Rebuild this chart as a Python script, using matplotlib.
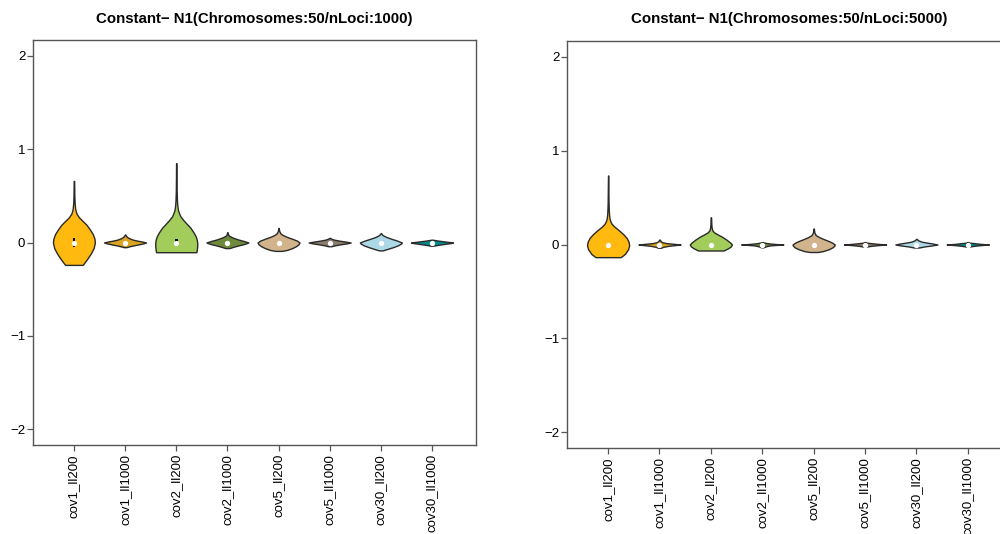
import matplotlib
matplotlib.use("Agg")
import matplotlib.pyplot as plt
from matplotlib.patches import Rectangle

plt.rcParams['font.family'] = ['Liberation Sans', 'DejaVu Sans']

categories = ["cov1_ll200", "cov1_ll1000", "cov2_ll200", "cov2_ll1000",
              "cov5_ll200", "cov5_ll1000", "cov30_ll200", "cov30_ll1000"]
colors = ["#FFB90F", "#DAA520", "#A2CD5A", "#6E8B3D",
          "#D2B48C", "#8B7D6B", "#ADD8E6", "#008B8B"]
titles = ["Constant\u2212 N1(Chromosomes:50/nLoci:1000)",
          "Constant\u2212 N1(Chromosomes:50/nLoci:5000)"]
yticks = [-2, -1, 0, 1, 2]
ytick_labels = ["\u22122", "\u22121", "0", "1", "2"]

# ---- violin profiles: (value levels, relative half-width) ----
# Panel 1 (nLoci:1000)
p1_coords = [
    [-0.24, -0.18, -0.12, -0.06, 0.0, 0.04, 0.09, 0.14, 0.19, 0.23, 0.27, 0.31, 0.36, 0.42, 0.5, 0.58, 0.66],
    [-0.05, -0.04, -0.03, -0.02, -0.01, 0.0, 0.01, 0.02, 0.03, 0.045, 0.06, 0.075, 0.086],
    [-0.104, -0.08, -0.04, 0.0, 0.03, 0.07, 0.11, 0.16, 0.2, 0.24, 0.28, 0.31, 0.35, 0.4, 0.45, 0.55, 0.7, 0.85],
    [-0.06, -0.045, -0.03, -0.015, 0.0, 0.015, 0.03, 0.045, 0.06, 0.075, 0.09, 0.11],
    [-0.09, -0.08, -0.06, -0.04, -0.02, 0.0, 0.02, 0.04, 0.06, 0.08, 0.1, 0.125, 0.155],
    [-0.04, -0.03, -0.02, -0.01, 0.0, 0.01, 0.02, 0.03, 0.04, 0.05],
    [-0.085, -0.07, -0.05, -0.03, -0.01, 0.0, 0.02, 0.04, 0.06, 0.08, 0.1],
    [-0.035, -0.025, -0.015, -0.005, 0.0, 0.01, 0.02, 0.03],
]
p1_widths = [
    [0.42, 0.62, 0.8, 0.94, 1.0, 0.98, 0.9, 0.76, 0.6, 0.42, 0.24, 0.12, 0.06, 0.035, 0.02, 0.015, 0.01],
    [0.06, 0.22, 0.42, 0.64, 0.86, 1.0, 0.82, 0.58, 0.38, 0.2, 0.09, 0.035, 0.01],
    [0.96, 0.98, 1.0, 1.0, 0.98, 0.92, 0.82, 0.67, 0.5, 0.34, 0.2, 0.14, 0.08, 0.05, 0.035, 0.02, 0.012, 0.008],
    [0.1, 0.3, 0.55, 0.82, 1.0, 0.8, 0.55, 0.35, 0.18, 0.07, 0.03, 0.01],
    [0.15, 0.4, 0.65, 0.83, 0.95, 1.0, 0.88, 0.65, 0.4, 0.2, 0.08, 0.03, 0.01],
    [0.08, 0.25, 0.5, 0.8, 1.0, 0.75, 0.45, 0.22, 0.08, 0.01],
    [0.08, 0.3, 0.58, 0.82, 0.97, 1.0, 0.78, 0.5, 0.25, 0.08, 0.01],
    [0.05, 0.3, 0.6, 0.92, 1.0, 0.65, 0.3, 0.03],
]
p1_median = [-0.01, 0.0, -0.005, 0.0, 0.0, 0.0, 0.0, 0.0]
p1_q1 = [-0.05, -0.005, -0.02, -0.005, -0.01, -0.004, -0.01, -0.003]
p1_q3 = [0.05, 0.005, 0.04, 0.005, 0.01, 0.004, 0.01, 0.003]

# Panel 2 (nLoci:5000)
p2_coords = [
    [-0.135, -0.1, -0.05, -0.01, 0.03, 0.07, 0.11, 0.15, 0.19, 0.22, 0.25, 0.28, 0.32, 0.38, 0.45, 0.55, 0.65, 0.736],
    [-0.035, -0.025, -0.015, -0.007, 0.0, 0.007, 0.015, 0.025, 0.035, 0.045, 0.053],
    [-0.064, -0.04, -0.02, 0.0, 0.02, 0.05, 0.08, 0.11, 0.13, 0.15, 0.18, 0.22, 0.29],
    [-0.03, -0.02, -0.01, -0.004, 0.0, 0.005, 0.012, 0.02, 0.025],
    [-0.08, -0.07, -0.05, -0.03, -0.01, 0.0, 0.02, 0.04, 0.06, 0.08, 0.1, 0.13, 0.17],
    [-0.022, -0.014, -0.007, 0.0, 0.007, 0.014, 0.02, 0.026],
    [-0.032, -0.02, -0.01, 0.0, 0.01, 0.02, 0.03, 0.045, 0.06],
    [-0.022, -0.014, -0.007, 0.0, 0.007, 0.014, 0.02, 0.026],
]
p2_widths = [
    [0.6, 0.8, 0.95, 1.0, 0.97, 0.88, 0.72, 0.52, 0.3, 0.17, 0.1, 0.065, 0.045, 0.03, 0.02, 0.015, 0.01, 0.005],
    [0.06, 0.18, 0.4, 0.72, 1.0, 0.68, 0.32, 0.13, 0.06, 0.03, 0.01],
    [0.6, 0.82, 0.95, 1.0, 0.92, 0.75, 0.55, 0.3, 0.15, 0.07, 0.035, 0.02, 0.01],
    [0.06, 0.16, 0.36, 0.7, 1.0, 0.65, 0.3, 0.1, 0.03],
    [0.2, 0.45, 0.72, 0.9, 0.99, 1.0, 0.88, 0.68, 0.45, 0.25, 0.1, 0.03, 0.01],
    [0.08, 0.3, 0.6, 1.0, 0.6, 0.3, 0.08, 0.02],
    [0.12, 0.4, 0.74, 1.0, 0.78, 0.5, 0.25, 0.08, 0.01],
    [0.08, 0.3, 0.6, 1.0, 0.6, 0.3, 0.08, 0.02],
]
p2_median = [-0.005, 0.0, 0.0, 0.0, 0.0, 0.0, 0.0, 0.0]
p2_q1 = [-0.02, -0.003, -0.01, -0.002, -0.01, -0.002, -0.004, -0.002]
p2_q3 = [0.02, 0.003, 0.01, 0.002, 0.01, 0.002, 0.004, 0.002]

panels = [
    (p1_coords, p1_widths, p1_median, p1_q1, p1_q3),
    (p2_coords, p2_widths, p2_median, p2_q1, p2_q3),
]
axes_rects = [
    [0.033, 1 - 445 / 534, 0.443, 405 / 534],
    [0.567, 1 - 448 / 534, 0.445, 407 / 534],
]

fig = plt.figure(figsize=(10, 5.34), dpi=100)
spine_col = "#555555"
positions = list(range(1, len(categories) + 1))

for k, (coords, widths, med, q1, q3) in enumerate(panels):
    ax = fig.add_axes(axes_rects[k])
    vpstats = []
    for c, w, m in zip(coords, widths, med):
        vpstats.append(dict(coords=c, vals=w, mean=m, median=m,
                            min=c[0], max=c[-1]))
    parts = ax.violin(vpstats, positions=positions, widths=0.82,
                      showmeans=False, showextrema=False, showmedians=False)
    for body, col in zip(parts['bodies'], colors):
        body.set_facecolor(col)
        body.set_edgecolor("#2a2a2a")
        body.set_linewidth(1.0)
        body.set_alpha(1)
        body.set_zorder(2)
    for x, a, b, m in zip(positions, q1, q3, med):
        ax.add_patch(Rectangle((x - 0.025, a), 0.05, b - a,
                               facecolor="black", edgecolor="none", zorder=3))
        ax.plot([x], [m], marker="o", color="white", markersize=3.8,
                markeredgewidth=0, zorder=4)
    ax.set_xlim(0.2, 8.86)
    ax.set_ylim(-2.17, 2.17)
    ax.set_yticks(yticks)
    ax.set_yticklabels(ytick_labels, fontsize=9.5)
    ax.set_xticks(positions)
    ax.set_xticklabels(categories, rotation=90, fontsize=9.5, va="top")
    ax.tick_params(axis="both", direction="out", length=4, width=0.9,
                   color=spine_col, pad=1.5)
    ax.tick_params(axis="x", pad=2.5)
    for s in ax.spines.values():
        s.set_color(spine_col)
        s.set_linewidth(1.0)
    x0, y0, w0, h0 = axes_rects[k]
    cx = x0 + w0 / 2 if k == 0 else (567 + 445 / 2) / 1000
    fig.text(cx, 1 - 19 / 534, titles[k], ha="center", va="center",
             fontsize=10.8, fontweight="bold")

fig.savefig("out.png", dpi=100)
